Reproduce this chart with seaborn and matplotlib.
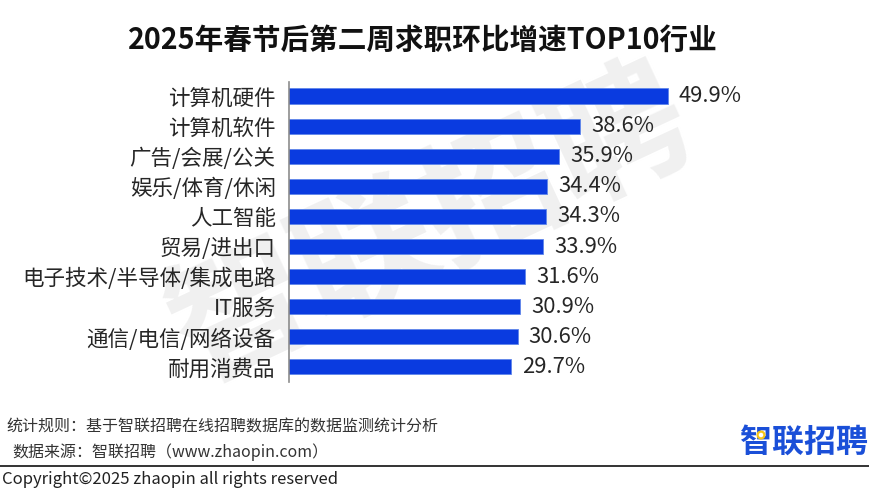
import matplotlib
matplotlib.use('Agg')
import matplotlib.pyplot as plt
import pandas as pd
import seaborn as sns
from matplotlib.lines import Line2D
from matplotlib.patches import Circle

### DATA

categories = ['计算机硬件', '计算机软件', '广告/会展/公关', '娱乐/体育/休闲', '人工智能',
              '贸易/进出口', '电子技术/半导体/集成电路', 'IT服务', '通信/电信/网络设备', '耐用消费品']
growth = [49.9, 38.6, 35.9, 34.4, 34.3, 33.9, 31.6, 30.9, 30.6, 29.7]

title = '2025年春节后第二周求职环比增速TOP10行业'
note_rule = '统计规则\uff1a基于智联招聘在线招聘数据库的数据监测统计分析'
note_source = '数据来源\uff1a智联招聘\uff08www.zhaopin.com\uff09'
copyright_text = 'Copyright©2025 zhaopin all rights reserved'
brand = '智联招聘'

W, H = 870, 492

sns.set_theme(style='white')
plt.rcParams['font.family'] = ['Noto Sans CJK SC', 'DejaVu Sans']

df = pd.DataFrame({'category': categories, 'growth': growth})

fig = plt.figure(figsize=(W / 100, H / 100), dpi=100, facecolor='white')

# watermark sits behind the bars
fig.text(432 / W, 1 - 228 / H, brand, fontsize=100, fontweight='bold', color='#f0f0f0',
         rotation=25, ha='center', va='center', zorder=0)

ax = fig.add_axes([289.5 / W, 1 - 382 / H, 520 / W, 300 / H], zorder=2)
ax.patch.set_alpha(0)

sns.barplot(data=df, y='category', x='growth', ax=ax, color='#0a3be0', saturation=1,
            width=0.5, edgecolor='#5f86ea', linewidth=0.6)

# axis does not start at zero in the original
ax.set_xlim(1.24, 1.24 + 520 / 7.77)
ax.set_ylim(9.5, -0.465)
ax.set_xlabel('')
ax.set_ylabel('')
ax.set_xticks([])
ax.tick_params(axis='y', length=0, pad=10, labelsize=15.5, labelcolor='#262626')

for s in ['top', 'right', 'bottom']:
    ax.spines[s].set_visible(False)
ax.spines['left'].set_color('#8c8c8c')
ax.spines['left'].set_linewidth(1.2)

for c in ax.containers:
    ax.bar_label(c, labels=[f'{v:.1f}%' for v in growth], padding=8, fontsize=15.8,
                 color='#262626')

fig.text(0.5 * (128 + 718) / W, 1 - 40 / H, title, fontsize=20.6, fontweight='bold',
         color='#111111', ha='center', va='center')

fig.text(6 / W, 1 - 427 / H, note_rule, fontsize=11.5, color='#333333', va='center')
fig.text(12 / W, 1 - 452 / H, note_source, fontsize=11.5, color='#333333', va='center')
fig.text(2 / W, 1 - 480 / H, copyright_text, fontsize=12, color='#222222', va='center')

fig.add_artist(Line2D([0, 1], [1 - 466 / H, 1 - 466 / H], color='#333333', linewidth=1.4,
                      transform=fig.transFigure))

# logo
fig.text(868 / W, 1 - 443 / H, brand, fontsize=23, fontweight='bold', color='#1a4fd8',
         ha='right', va='center')
fig.add_artist(Circle((761, H - 435), 3.4, transform=None, facecolor='white',
                      edgecolor='#f5c518', linewidth=1.6, zorder=5))

plt.savefig('out.png', dpi=100)
